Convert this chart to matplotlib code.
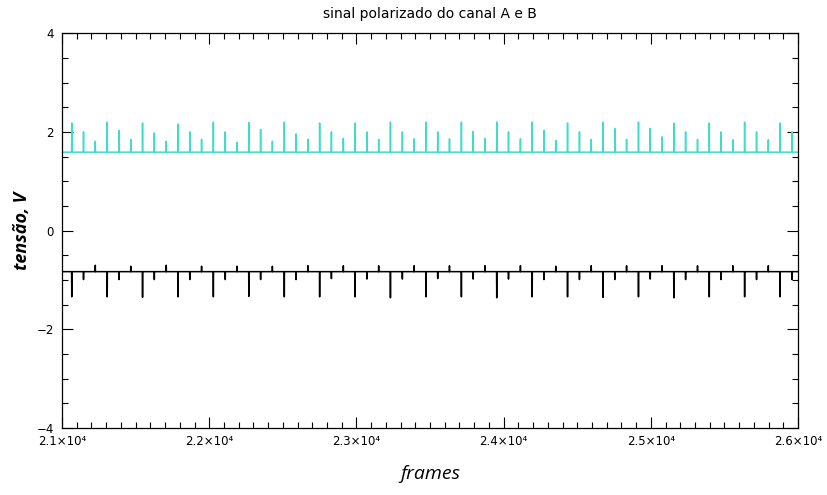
"""sinal polarizado do canal A e B"""
import matplotlib
matplotlib.use("Agg")
import matplotlib.pyplot as plt
from matplotlib.ticker import MultipleLocator

# frames where the pulses happen
spike_frames = [21066, 21146, 21226, 21307, 21387, 21467, 21547, 21627, 21708, 21788,
                21868, 21948, 22028, 22109, 22189, 22269, 22349, 22429, 22510, 22590,
                22670, 22750, 22830, 22911, 22991, 23071, 23151, 23231, 23312, 23392,
                23472, 23552, 23632, 23713, 23793, 23873, 23953, 24033, 24114, 24194,
                24274, 24354, 24434, 24515, 24595, 24675, 24755, 24835, 24916, 24996,
                25076, 25156, 25236, 25317, 25397, 25477, 25557, 25637, 25718, 25798,
                25878, 25958]

# canal A (cyan) peak values, V
peaks_a = [2.18, 2.00, 1.81, 2.20, 2.03, 1.85, 2.18, 1.98, 1.81, 2.16,
           2.00, 1.85, 2.20, 2.00, 1.79, 2.19, 2.05, 1.81, 2.20, 1.96,
           1.85, 2.18, 2.00, 1.87, 2.18, 2.00, 1.85, 2.20, 2.00, 1.86,
           2.20, 2.00, 1.86, 2.20, 2.01, 1.87, 2.20, 2.00, 1.86, 2.20,
           2.03, 1.83, 2.18, 2.00, 1.85, 2.20, 2.07, 1.85, 2.20, 2.07,
           1.90, 2.18, 2.00, 1.85, 2.18, 2.00, 1.84, 2.20, 2.00, 1.84,
           2.18, 2.00]

# canal B (black) peak values, V
peaks_b = [-1.34, -0.99, -0.70, -1.34, -0.99, -0.72, -1.35, -0.99, -0.70, -1.34,
           -0.99, -0.72, -1.34, -0.99, -0.72, -1.33, -0.99, -0.72, -1.34, -0.99,
           -0.71, -1.34, -0.97, -0.71, -1.34, -0.98, -0.71, -1.36, -0.98, -0.71,
           -1.34, -0.97, -0.71, -1.34, -0.98, -0.71, -1.36, -0.98, -0.71, -1.34,
           -0.99, -0.72, -1.34, -0.99, -0.71, -1.35, -0.99, -0.71, -1.34, -0.98,
           -0.71, -1.36, -0.99, -0.71, -1.34, -0.99, -0.71, -1.34, -0.99, -0.71,
           -1.34, -0.99]

base_a = 1.59
base_b = -0.83
frame_range = [21000, 26000]

xtick_vals = [21000, 22000, 23000, 24000, 25000, 26000]
xtick_labels = ["2.1×10⁴", "2.2×10⁴", "2.3×10⁴", "2.4×10⁴", "2.5×10⁴", "2.6×10⁴"]
ytick_vals = [-4, -2, 0, 2, 4]
ytick_labels = ["−4", "−2", "0", "2", "4"]


def pulse_train(frames, peaks, base):
    # baseline with a narrow pulse at each frame
    xs = [frame_range[0]]
    ys = [base]
    for f, p in zip(frames, peaks):
        xs += [f - 1, f, f + 1]
        ys += [base, p, base]
    xs.append(frame_range[1])
    ys.append(base)
    return xs, ys


fig = plt.figure(figsize=(8.27, 4.95), dpi=100)
ax = fig.add_axes([0.075, 0.135, 0.89, 0.798])

xa, ya = pulse_train(spike_frames, peaks_a, base_a)
xb, yb = pulse_train(spike_frames, peaks_b, base_b)
ax.plot(xa, ya, color="#3ddccb", lw=1.1)
ax.plot(xb, yb, color="black", lw=1.1)

ax.set_xlim(frame_range)
ax.set_ylim(-4, 4)
ax.set_xticks(xtick_vals)
ax.set_xticklabels(xtick_labels, fontsize=8.5)
ax.set_yticks(ytick_vals)
ax.set_yticklabels(ytick_labels, fontsize=8.5)
ax.xaxis.set_minor_locator(MultipleLocator(100))
ax.yaxis.set_minor_locator(MultipleLocator(0.5))
ax.tick_params(which="both", direction="in", top=True, right=True, width=0.8)
ax.tick_params(which="major", length=8)
ax.tick_params(axis="x", which="major", pad=5)
ax.tick_params(axis="y", which="major", pad=6)
ax.tick_params(which="minor", length=4)
for s in ax.spines.values():
    s.set_linewidth(0.9)

ax.set_title("sinal polarizado do canal A e B", fontsize=10, pad=11)
ax.set_xlabel("frames", fontsize=14, style="italic", family="Open Sans", labelpad=12)
ax.set_ylabel("tensão, V", fontsize=13, style="italic", weight="bold",
              family="Open Sans", labelpad=4)

fig.savefig("out.png", dpi=100)
